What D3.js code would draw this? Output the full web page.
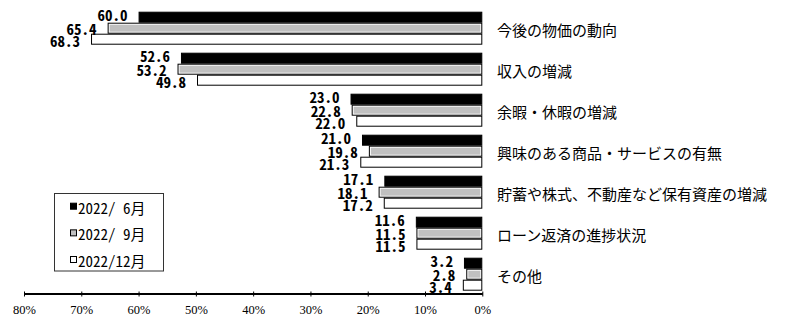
<!DOCTYPE html>
<html>
<head>
<meta charset="utf-8">
<script src="https://cdn.jsdelivr.net/npm/d3@7"></script>
<style>
  html, body { margin: 0; padding: 0; background: #fff; }
  svg { display: block; }
  .val { font-family: "Noto Sans CJK JP", sans-serif; font-weight: bold; font-size: 15px; font-feature-settings: "hwid"; }
  .cat { font-family: "Noto Sans CJK JP", sans-serif; font-size: 15px; }
  .leg { font-family: "Noto Sans CJK JP", sans-serif; font-size: 15px; font-feature-settings: "hwid"; }
  .tick text { font-family: "Liberation Serif", serif; font-size: 12.5px; }
</style>
</head>
<body>
<svg id="chart" width="800" height="329"></svg>
<script>
// Factors considered when deciding spending (%), three survey rounds
const categories = [
  "今後の物価の動向",
  "収入の増減",
  "余暇・休暇の増減",
  "興味のある商品・サービスの有無",
  "貯蓄や株式、不動産など保有資産の増減",
  "ローン返済の進捗状況",
  "その他"
];
const seriesNames = ["2022/ 6月", "2022/ 9月", "2022/12月"];
const jun2022 = [60.0, 52.6, 23.0, 21.0, 17.1, 11.6, 3.2];
const sep2022 = [65.4, 53.2, 22.8, 19.8, 18.1, 11.5, 2.8];
const dec2022 = [68.3, 49.8, 22.0, 21.3, 17.2, 11.5, 3.4];
const tickValues = [80, 70, 60, 50, 40, 30, 20, 10, 0];

const seriesValues = [jun2022, sep2022, dec2022];
const seriesFill = ["#000000", "#c0c0c0", "#ffffff"];
// label nudges per series so stacked labels stay readable
const labelDy = [-2.5, 0, 1.5];

const svg = d3.select("#chart");

const x = d3.scaleLinear().domain([0, 80]).range([482.3, 24]);
const y = d3.scaleBand().domain(categories).range([7.7, 294.7])
  .paddingInner(8 / 41).paddingOuter(4 / 41);
const ySub = d3.scaleBand().domain(d3.range(3)).range([0, y.bandwidth()]);

const rows = categories.map((c, i) => ({
  cat: c,
  vals: seriesValues.map((s, k) => ({ k, v: s[i] }))
}));

const g = svg.append("g");
const groups = g.selectAll("g.grp").data(rows).join("g")
  .attr("class", "grp")
  .attr("transform", d => `translate(0,${y(d.cat)})`);

// bars
groups.each(function(d) {
  const gg = d3.select(this);
  d.vals.forEach(({ k, v }) => {
    const x0 = x(v), w = x(0) - x(v), y0 = ySub(k), h = ySub.bandwidth();
    if (k === 1) {
      gg.append("rect")
        .attr("x", x0 + 0.5).attr("y", y0 + 0.5)
        .attr("width", w - 1).attr("height", h - 1)
        .attr("fill", "#fff").attr("stroke", "#000").attr("stroke-width", 1);
      gg.append("rect")
        .attr("x", x0 + 2).attr("y", y0 + 2)
        .attr("width", Math.max(0, w - 4)).attr("height", h - 4)
        .attr("fill", seriesFill[k]);
    } else {
      gg.append("rect")
        .attr("x", x0 + 0.5).attr("y", y0 + 0.5)
        .attr("width", w - 1).attr("height", h - 1)
        .attr("fill", seriesFill[k]).attr("stroke", "#000").attr("stroke-width", 1);
    }
  });
});

// value labels
groups.selectAll("text.val").data(d => d.vals).join("text")
  .attr("class", "val")
  .attr("x", d => x(d.v) - 11)
  .attr("y", d => ySub(d.k) + ySub.bandwidth() / 2 + labelDy[d.k])
  .attr("text-anchor", "end")
  .attr("dominant-baseline", "central")
  .text(d => d.v.toFixed(1));

// category labels
g.selectAll("text.cat").data(categories).join("text")
  .attr("class", "cat")
  .attr("x", 497)
  .attr("y", d => y(d) + y.bandwidth() / 2 + 1)
  .attr("dominant-baseline", "central")
  .text(d => d);

// x axis
const axis = d3.axisBottom(x)
  .tickValues(tickValues)
  .tickFormat(d => d + "%")
  .tickSizeInner(3)
  .tickSizeOuter(0)
  .tickPadding(9);
const ax = svg.append("g").attr("transform", "translate(0,293.5)").call(axis);
ax.select(".domain").attr("stroke", "#000").attr("stroke-width", 2);
ax.selectAll(".tick line").attr("stroke", "#000").attr("y1", -2);
ax.selectAll(".tick text").attr("fill", "#000");

// legend
const leg = svg.append("g");
leg.append("rect")
  .attr("x", 54.5).attr("y", 193.5).attr("width", 109).attr("height", 77.5)
  .attr("fill", "#fff").attr("stroke", "#333").attr("stroke-width", 1);
const legY = d3.scalePoint().domain(d3.range(3)).range([206.7, 260]);
seriesNames.forEach((name, k) => {
  leg.append("rect")
    .attr("x", 70.5).attr("y", legY(k) - 3.5).attr("width", 6).attr("height", 6)
    .attr("fill", seriesFill[k]).attr("stroke", "#000").attr("stroke-width", 1);
  leg.append("text")
    .attr("class", "leg")
    .attr("x", 78).attr("y", legY(k) + 0.5)
    .attr("dominant-baseline", "central")
    .text(name);
});
</script>
</body>
</html>
